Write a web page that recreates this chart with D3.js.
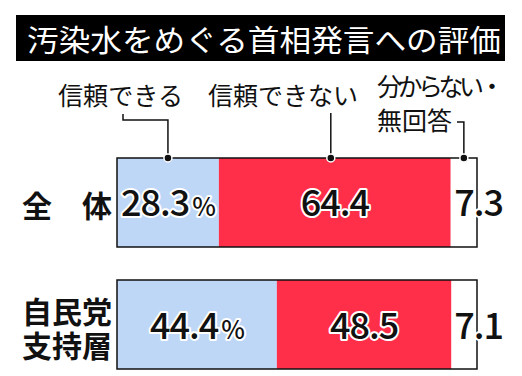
<!DOCTYPE html>
<html>
<head>
<meta charset="utf-8">
<script src="https://cdn.jsdelivr.net/npm/d3@7"></script>
<style>
  body { margin: 0; background: #fff; }
  svg { display: block; }
  text { font-family: "Noto Sans CJK JP", "Noto Sans", sans-serif; }
</style>
</head>
<body>
<div id="chart"></div>
<script>
// data
const title = "汚染水をめぐる首相発言への評価";
const categories = ["全体", "自民党支持層"];
const categoryLines = [["全　体"], ["自民党", "支持層"]];
const seriesNames = ["信頼できる", "信頼できない", "分からない・無回答"];
const trust = [28.3, 44.4];
const distrust = [64.4, 48.5];
const unknown = [7.3, 7.1];
const colors = ["#bfd7f7", "#ff2f4a", "#ffffff"];

const width = 522, height = 376;
const svg = d3.select("#chart").append("svg")
    .attr("width", width)
    .attr("height", height);

const x = d3.scaleLinear().domain([0, 100]).range([117, 477]);
const y = d3.scaleBand().domain(categories).range([158, 369]).paddingInner(0.2705);

// title box
svg.append("rect")
    .attr("x", 16).attr("y", 15)
    .attr("width", 489).attr("height", 46)
    .attr("fill", "#000");
svg.append("text")
    .attr("x", 27).attr("y", 38)
    .attr("dominant-baseline", "central")
    .attr("textLength", 474)
    .attr("lengthAdjust", "spacingAndGlyphs")
    .style("font-size", "30px")
    .style("fill", "#fff")
    .text(title);

// stack the three series
const rows = categories.map((c, i) => {
  const vals = [trust[i], distrust[i], unknown[i]];
  let acc = 0;
  return vals.map((v, k) => {
    const seg = { cat: c, k, v, x0: acc, x1: acc + v };
    acc += v;
    return seg;
  });
});

const g = svg.append("g");
rows.forEach(segs => {
  g.selectAll(null)
    .data(segs)
    .join("rect")
      .attr("x", d => x(d.x0))
      .attr("y", d => y(d.cat))
      .attr("width", d => x(d.x1) - x(d.x0))
      .attr("height", y.bandwidth())
      .attr("fill", d => colors[d.k]);
});

// bar outlines
svg.selectAll(".outline")
  .data(categories)
  .join("rect")
    .attr("class", "outline")
    .attr("x", x(0))
    .attr("y", d => y(d))
    .attr("width", x(100) - x(0))
    .attr("height", y.bandwidth())
    .attr("fill", "none")
    .attr("stroke", "#111")
    .attr("stroke-width", 1.5);

// value labels
function valueLabel(sel, txt, withPct, size) {
  const t = sel.append("text")
      .attr("text-anchor", "middle")
      .style("font-size", size + "px")
      .style("font-weight", 500)
      .style("fill", "#111")
      .style("stroke", "#fff")
      .style("stroke-width", 4)
      .style("stroke-linejoin", "round")
      .style("paint-order", "stroke")
      .style("letter-spacing", "-1px");
  t.append("tspan").text(txt);
  if (withPct) t.append("tspan").style("font-size", (size * 0.7) + "px").attr("dx", 3).text("%");
  return t;
}

rows.forEach((segs, i) => {
  const cy = y(segs[0].cat) + y.bandwidth() / 2 + 14;
  segs.forEach(d => {
    if (d.k === 2) {
      valueLabel(svg, d.v.toFixed(1), false, 36)
        .attr("text-anchor", "end")
        .attr("x", 503).attr("y", cy);
    } else {
      const cx = (x(d.x0) + x(d.x1)) / 2;
      valueLabel(svg, d.v.toFixed(1), d.k === 0, 36)
        .attr("x", cx).attr("y", cy);
    }
  });
});

// category labels
categoryLines.forEach((lines, i) => {
  const cy = y(categories[i]) + y.bandwidth() / 2 + 2;
  const t = svg.append("text")
      .attr("text-anchor", "end")
      .style("font-size", "30px")
      .style("font-weight", 700)
      .style("fill", "#111");
  lines.forEach((ln, j) => {
    t.append("tspan")
      .attr("x", 112)
      .attr("y", cy + (j - (lines.length - 1) / 2) * 34)
      .attr("dominant-baseline", "central")
      .text(ln);
  });
});

// legend labels with leader lines (top bar)
const firstRow = rows[0];
const barTop = y(categories[0]);
const mids = firstRow.map(d => (x(d.x0) + x(d.x1)) / 2);

const legendStyle = t => t
    .style("font-size", "25px")
    .style("fill", "#111")
    .attr("dominant-baseline", "central");

svg.append("text").call(legendStyle)
    .attr("x", 58).attr("y", 94)
    .attr("textLength", 125).attr("lengthAdjust", "spacingAndGlyphs")
    .text(seriesNames[0]);
svg.append("text").call(legendStyle)
    .attr("x", 208).attr("y", 94)
    .attr("textLength", 150).attr("lengthAdjust", "spacingAndGlyphs")
    .text(seriesNames[1]);
svg.append("text").call(legendStyle)
    .attr("x", 377).attr("y", 85)
    .style("letter-spacing", "-4.5px")
    .text(seriesNames[2].slice(0, 6));
svg.append("text").call(legendStyle)
    .attr("x", 377).attr("y", 119)
    .text(seriesNames[2].slice(6));

const leaders = [
  [[123, 114], [123, 120], [mids[0], 120], [mids[0], barTop]],
  [[mids[1] - 4, 113], [mids[1] - 4, barTop]],
  [[457, 122], [mids[2], 122], [mids[2], barTop]]
];
svg.selectAll(".leader")
  .data(leaders)
  .join("path")
    .attr("class", "leader")
    .attr("d", d3.line())
    .attr("fill", "none")
    .attr("stroke", "#111")
    .attr("stroke-width", 1.5);

svg.selectAll(".dot")
  .data([mids[0], mids[1] - 4, mids[2]])
  .join("circle")
    .attr("class", "dot")
    .attr("cx", d => d)
    .attr("cy", barTop)
    .attr("r", 4)
    .attr("fill", "#111")
    .attr("stroke", "#fff")
    .attr("stroke-width", 1.5);
</script>
</body>
</html>
